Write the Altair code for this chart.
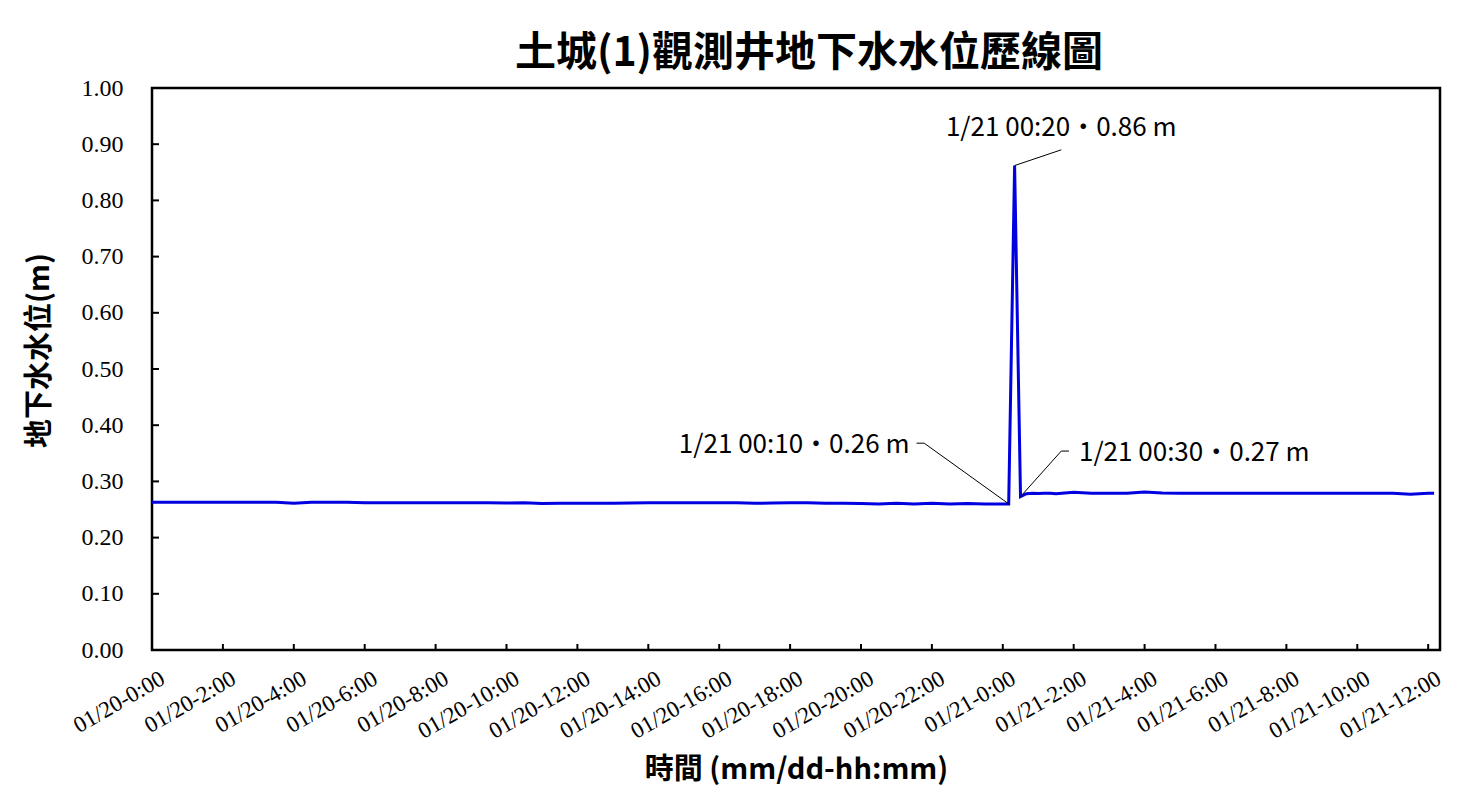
import altair as alt
import pandas as pd

# ---------------- data ----------------
times = [
    "2024-01-20 00:00", "2024-01-20 00:30", "2024-01-20 01:00", "2024-01-20 01:30",
    "2024-01-20 02:00", "2024-01-20 02:30", "2024-01-20 03:00", "2024-01-20 03:30",
    "2024-01-20 04:00", "2024-01-20 04:30", "2024-01-20 05:00", "2024-01-20 05:30",
    "2024-01-20 06:00", "2024-01-20 06:30", "2024-01-20 07:00", "2024-01-20 07:30",
    "2024-01-20 08:00", "2024-01-20 08:30", "2024-01-20 09:00", "2024-01-20 09:30",
    "2024-01-20 10:00", "2024-01-20 10:30", "2024-01-20 11:00", "2024-01-20 11:30",
    "2024-01-20 12:00", "2024-01-20 12:30", "2024-01-20 13:00", "2024-01-20 13:30",
    "2024-01-20 14:00", "2024-01-20 14:30", "2024-01-20 15:00", "2024-01-20 15:30",
    "2024-01-20 16:00", "2024-01-20 16:30", "2024-01-20 17:00", "2024-01-20 17:30",
    "2024-01-20 18:00", "2024-01-20 18:30", "2024-01-20 19:00", "2024-01-20 19:30",
    "2024-01-20 20:00", "2024-01-20 20:30", "2024-01-20 21:00", "2024-01-20 21:30",
    "2024-01-20 22:00", "2024-01-20 22:30", "2024-01-20 23:00", "2024-01-20 23:30",
    "2024-01-20 23:40", "2024-01-20 23:50", "2024-01-21 00:00", "2024-01-21 00:10",
    "2024-01-21 00:20", "2024-01-21 00:30", "2024-01-21 00:40", "2024-01-21 00:50",
    "2024-01-21 01:00", "2024-01-21 01:10", "2024-01-21 01:20", "2024-01-21 01:30",
    "2024-01-21 02:00", "2024-01-21 02:30", "2024-01-21 03:00", "2024-01-21 03:30",
    "2024-01-21 04:00", "2024-01-21 04:30", "2024-01-21 05:00", "2024-01-21 05:30",
    "2024-01-21 06:00", "2024-01-21 06:30", "2024-01-21 07:00", "2024-01-21 07:30",
    "2024-01-21 08:00", "2024-01-21 08:30", "2024-01-21 09:00", "2024-01-21 09:30",
    "2024-01-21 10:00", "2024-01-21 10:30", "2024-01-21 11:00", "2024-01-21 11:30",
    "2024-01-21 12:00", "2024-01-21 12:10",
]
levels = [
    0.263, 0.263, 0.263, 0.263,
    0.263, 0.263, 0.263, 0.263,
    0.261, 0.263, 0.263, 0.263,
    0.262, 0.262, 0.262, 0.262,
    0.262, 0.262, 0.262, 0.262,
    0.2615, 0.262, 0.2605, 0.261,
    0.261, 0.261, 0.261, 0.2615,
    0.262, 0.262, 0.262, 0.262,
    0.262, 0.262, 0.261, 0.2615,
    0.262, 0.262, 0.261, 0.261,
    0.2605, 0.2598, 0.2612, 0.2598,
    0.261, 0.2598, 0.2605, 0.260,
    0.260, 0.260, 0.260, 0.260,
    0.862, 0.273, 0.278, 0.279,
    0.2785, 0.279, 0.279, 0.278,
    0.2805, 0.279, 0.279, 0.279,
    0.281, 0.2795, 0.279, 0.279,
    0.279, 0.279, 0.279, 0.279,
    0.279, 0.279, 0.279, 0.279,
    0.279, 0.279, 0.279, 0.277,
    0.279, 0.279,
]

x_ticks = [
    "2024-01-20 00:00", "2024-01-20 02:00", "2024-01-20 04:00", "2024-01-20 06:00",
    "2024-01-20 08:00", "2024-01-20 10:00", "2024-01-20 12:00", "2024-01-20 14:00",
    "2024-01-20 16:00", "2024-01-20 18:00", "2024-01-20 20:00", "2024-01-20 22:00",
    "2024-01-21 00:00", "2024-01-21 02:00", "2024-01-21 04:00", "2024-01-21 06:00",
    "2024-01-21 08:00", "2024-01-21 10:00", "2024-01-21 12:00",
]
x_domain = ["2024-01-20 00:00", "2024-01-21 12:20"]
y_ticks = [0.0, 0.1, 0.2, 0.3, 0.4, 0.5, 0.6, 0.7, 0.8, 0.9, 1.0]

# annotations: data point, elbow of the leader line, end of the leader stub
annot_id = [1, 2, 3]
annot_text = [
    "1/21 00:10·0.26 m",
    "1/21 00:20·0.86 m",
    "1/21 00:30·0.27 m",
]
annot_time = ["2024-01-21 00:10", "2024-01-21 00:20", "2024-01-21 00:30"]
annot_value = [0.260, 0.862, 0.273]
elbow_time = ["2024-01-20 21:47", "2024-01-21 01:39", "2024-01-21 01:39"]
elbow_value = [0.368, 0.890, 0.354]
stub_time = ["2024-01-20 21:34", "2024-01-21 01:39", "2024-01-21 01:52"]
stub_value = [0.368, 0.890, 0.354]

title_text = "土城(1)觀測井地下水水位歷線圖"
x_title = "時間 (mm/dd-hh:mm)"
y_title = "地下水水位(m)"


def ms(s):
    return int(pd.Timestamp(s, tz="UTC").value // 10**6)


df = pd.DataFrame({"t": [ms(s) for s in times], "v": levels})
xt = pd.DataFrame({"t": [ms(s) for s in x_ticks]})
yt = pd.DataFrame({"v": y_ticks})

lead_rows = []
for i in range(len(annot_id)):
    lead_rows.append({"id": annot_id[i], "seq": 0, "t": ms(annot_time[i]), "v": annot_value[i]})
    lead_rows.append({"id": annot_id[i], "seq": 1, "t": ms(elbow_time[i]), "v": elbow_value[i]})
    lead_rows.append({"id": annot_id[i], "seq": 2, "t": ms(stub_time[i]), "v": stub_value[i]})
lead = pd.DataFrame(lead_rows)

lab = pd.DataFrame({
    "id": annot_id,
    "text": annot_text,
    "t": [ms(s) for s in stub_time],
    "v": stub_value,
})

W, H = 1288, 562
LINE_BLUE = "#0000e0"
CJK = "Noto Sans CJK TC"
SERIF = "Liberation Serif"

x_scale = alt.Scale(type="utc", domain=[ms(x_domain[0]), ms(x_domain[1])])
y_scale = alt.Scale(domain=[0, 1])

x_axis = alt.Axis(
    values=[ms(s) for s in x_ticks],
    labelExpr="utcFormat(datum.value, '%m/%d-%-H:%M')",
    labelAngle=330,
    labelAlign="right",
    labelBaseline="top",
    labelPadding=17,
    labelOffset=5,
    labelFont=SERIF,
    labelFontSize=23,
    labelColor="black",
    labelOverlap=False,
    labelBound=False,
    labelFlush=False,
    ticks=False,
    tickSize=0,
    domain=False,
    grid=False,
    title=x_title,
    titleFont=CJK,
    titleFontSize=29,
    titleFontWeight="bold",
    titleColor="black",
    titlePadding=12,
)
y_axis = alt.Axis(
    values=y_ticks,
    format=".2f",
    labelPadding=29,
    labelFont=SERIF,
    labelFontSize=24,
    labelColor="black",
    ticks=False,
    tickSize=0,
    domain=False,
    grid=False,
    title=y_title,
    titleFont=CJK,
    titleFontSize=29,
    titleFontWeight="bold",
    titleColor="black",
    titlePadding=27,
    titleY=262,
)

line = alt.Chart(df).mark_line(color=LINE_BLUE, strokeWidth=3).encode(
    x=alt.X("t:T", scale=x_scale, axis=x_axis),
    y=alt.Y("v:Q", scale=y_scale, axis=y_axis),
)

y_tick_marks = alt.Chart(yt).mark_rule(color="black", strokeWidth=2).encode(
    y="v:Q", x=alt.value(0), x2=alt.value(7)
)
x_tick_marks = alt.Chart(xt).mark_rule(color="black", strokeWidth=2).encode(
    x="t:T", y=alt.value(H), y2=alt.value(H - 6)
)

leaders = alt.Chart(lead).mark_line(color="black", strokeWidth=1).encode(
    x="t:T", y="v:Q", detail="id:N", order="seq:O"
)

txt_base = alt.Chart(lab)
txt1 = txt_base.transform_filter("datum.id == 1").mark_text(
    font=CJK, fontSize=26, align="right", baseline="middle", dx=-7, dy=2, color="black"
).encode(x="t:T", y="v:Q", text="text:N")
txt2 = txt_base.transform_filter("datum.id == 2").mark_text(
    font=CJK, fontSize=26, align="center", baseline="alphabetic", dy=-14, color="black"
).encode(x="t:T", y="v:Q", text="text:N")
txt3 = txt_base.transform_filter("datum.id == 3").mark_text(
    font=CJK, fontSize=26, align="left", baseline="middle", dx=10, dy=2, color="black"
).encode(x="t:T", y="v:Q", text="text:N")

chart = alt.layer(
    line, y_tick_marks, x_tick_marks, leaders, txt1, txt2, txt3
).properties(
    width=W,
    height=H,
    autosize=alt.AutoSizeParams(type="none"),
    padding={"left": 144, "top": 80, "right": 24, "bottom": 137},
    background="white",
    title=alt.TitleParams(
        text=title_text,
        font=CJK,
        fontSize=41,
        fontWeight="bold",
        color="black",
        anchor="middle",
        dx=13,
        offset=1,
    ),
).configure_view(
    stroke="black", strokeWidth=2.5
)

chart.save("out.html", embed_options={"renderer": "svg", "actions": False})
